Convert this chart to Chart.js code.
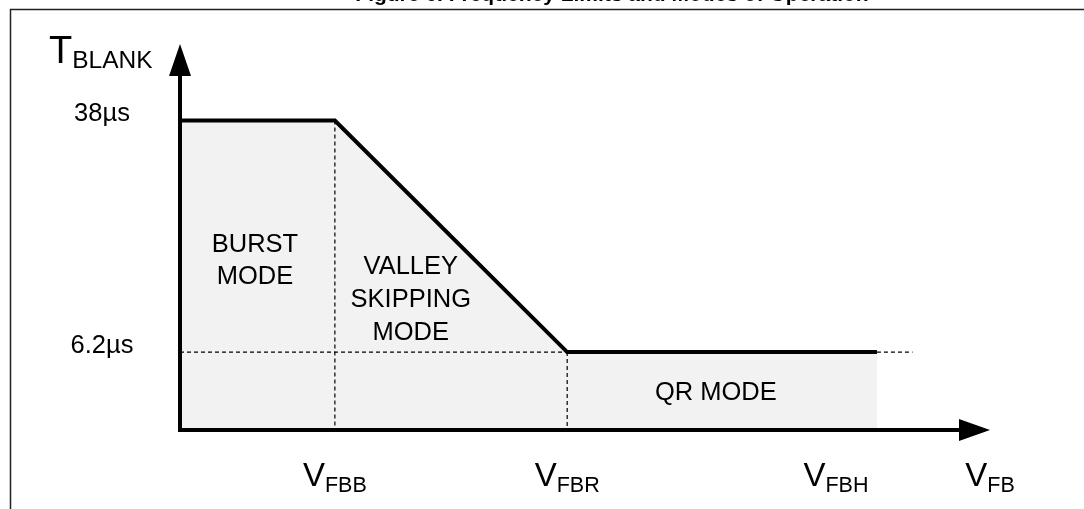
<!DOCTYPE html>
<html lang="en">
<head>
    <meta charset="UTF-8">
    <title>Frequency Limits and Modes of Operation</title>
    <script src="https://cdn.jsdelivr.net/npm/chart.js"></script>
    <style>
        html, body {
            margin: 0;
            padding: 0;
            overflow: hidden;
            background: #fff;
            font-family: "Liberation Sans", Arial, sans-serif;
        }
        #wrap {
            position: relative;
            width: 1084px;
            height: 509px;
        }
    </style>
</head>
<body>
    <div id="wrap"><canvas id="modeChart"></canvas></div>

    <script>
        // feedback voltage break points (arbitrary units): origin, VFBB, VFBR, VFBH
        const vfbPoints = [0, 1, 2.5, 4.5];
        // blanking time at those points, in µs
        const tBlank = [38, 38, 6.2, 6.2];

        // y tick values and their labels
        const yTicks = [38, 6.2];
        const yTickLabels = ['38µs', '6.2µs'];

        // x labels: main letter + subscript, and where they sit on the x axis
        const xLabelMain = ['V', 'V', 'V', 'V'];
        const xLabelSub = ['FBB', 'FBR', 'FBH', 'FB'];
        const xLabelAt = [1, 2.5, 4.235, 5.23];

        // region names
        const regionNames = [['BURST', 'MODE'], ['VALLEY', 'SKIPPING', 'MODE'], ['QR MODE']];

        const xMin = 0, xMax = 5.23;
        const yMin = -4.5, yMax = 48.5;

        const FONT = '"Liberation Sans", Arial, sans-serif';

        function pts(xs, ys) {
            return xs.map((x, i) => ({ x: x, y: ys[i] }));
        }

        const dashStyle = {
            borderColor: '#000',
            borderWidth: 1.2,
            borderDash: [4, 3],
            pointRadius: 0,
            fill: false,
            clip: false
        };

        // helper lines: 6.2µs level up to VFBR, the guide past VFBH,
        // and the drops at VFBB and VFBR
        const dashed = [
            pts([vfbPoints[0], vfbPoints[2]], [tBlank[2], tBlank[2]]),
            pts([vfbPoints[3], 4.73], [tBlank[3], tBlank[3]]),
            pts([vfbPoints[1], vfbPoints[1]], [tBlank[1], yMin]),
            pts([vfbPoints[2], vfbPoints[2]], [tBlank[2], yMin])
        ];

        const decor = {
            id: 'decor',
            afterDatasetsDraw(chart) {
                const ctx = chart.ctx;
                const xs = chart.scales.x, ys = chart.scales.y;
                const left = xs.getPixelForValue(xMin);
                const right = xs.getPixelForValue(xMax);
                const top = ys.getPixelForValue(yMax);
                const bottom = ys.getPixelForValue(yMin);

                ctx.save();
                // axes
                ctx.strokeStyle = '#000';
                ctx.fillStyle = '#000';
                ctx.lineWidth = 4;
                ctx.lineJoin = 'miter';
                ctx.beginPath();
                ctx.moveTo(left, top + 20);
                ctx.lineTo(left, bottom);
                ctx.lineTo(right - 20, bottom);
                ctx.stroke();

                // arrow heads
                ctx.beginPath();
                ctx.moveTo(left, top);
                ctx.lineTo(left - 11, top + 32);
                ctx.lineTo(left + 11, top + 32);
                ctx.closePath();
                ctx.fill();
                ctx.beginPath();
                ctx.moveTo(right, bottom);
                ctx.lineTo(right - 31, bottom - 11);
                ctx.lineTo(right - 31, bottom + 11);
                ctx.closePath();
                ctx.fill();

                // y tick labels
                ctx.textAlign = 'center';
                ctx.textBaseline = 'alphabetic';
                ctx.font = '25.5px ' + FONT;
                yTicks.forEach((v, i) => {
                    ctx.fillText(yTickLabels[i], left - 78, ys.getPixelForValue(v) + 1);
                });

                // y axis title T_BLANK
                ctx.textAlign = 'left';
                ctx.font = '38px ' + FONT;
                ctx.fillText('T', left - 131, top + 19);
                const tw = ctx.measureText('T').width;
                ctx.font = '24.5px ' + FONT;
                ctx.fillText('BLANK', left - 131 + tw, top + 24);

                // x labels with subscripts
                xLabelAt.forEach((v, i) => {
                    ctx.font = '33px ' + FONT;
                    const w1 = ctx.measureText(xLabelMain[i]).width;
                    ctx.font = '21.5px ' + FONT;
                    const w2 = ctx.measureText(xLabelSub[i]).width;
                    const x0 = xs.getPixelForValue(v) - (w1 + w2) / 2;
                    ctx.font = '33px ' + FONT;
                    ctx.fillText(xLabelMain[i], x0, bottom + 56);
                    ctx.font = '21.5px ' + FONT;
                    ctx.fillText(xLabelSub[i], x0 + w1, bottom + 62);
                });

                // region names
                ctx.textAlign = 'center';
                ctx.font = '25.5px ' + FONT;
                const regionAt = [[0.484, 19.94, 32], [1.49, 16.88, 33], [3.46, -0.38, 32]];
                regionNames.forEach((lines, i) => {
                    const [rx, ry, lh] = regionAt[i];
                    const px = xs.getPixelForValue(rx);
                    const py = ys.getPixelForValue(ry);
                    lines.forEach((t, j) => ctx.fillText(t, px, py + j * lh));
                });

                // figure title, mostly cut off at the top edge
                ctx.font = 'bold 21px ' + FONT;
                ctx.fillText('Figure 6. Frequency Limits and Modes of Operation', 612, 1);

                // frame
                ctx.lineWidth = 1.5;
                ctx.strokeStyle = '#222';
                ctx.strokeRect(10.5, 9.5, 2000, 2000);
                ctx.restore();
            }
        };

        new Chart(document.getElementById('modeChart'), {
            type: 'line',
            data: {
                datasets: [
                    {
                        data: pts(vfbPoints, tBlank),
                        borderColor: '#000',
                        borderWidth: 4,
                        borderJoinStyle: 'miter',
                        backgroundColor: '#f2f2f2',
                        fill: 'start',
                        pointRadius: 0,
                        tension: 0,
                        clip: false
                    },
                    ...dashed.map(d => Object.assign({ data: d }, dashStyle))
                ]
            },
            options: {
                responsive: true,
                maintainAspectRatio: false,
                animation: false,
                events: [],
                layout: { padding: { left: 180, right: 94, top: 44, bottom: 79 } },
                scales: {
                    x: { type: 'linear', min: xMin, max: xMax, display: false },
                    y: { type: 'linear', min: yMin, max: yMax, display: false }
                },
                plugins: {
                    legend: { display: false },
                    tooltip: { enabled: false },
                    filler: { drawTime: 'beforeDatasetsDraw' }
                }
            },
            plugins: [decor]
        });
    </script>
</body>
</html>
